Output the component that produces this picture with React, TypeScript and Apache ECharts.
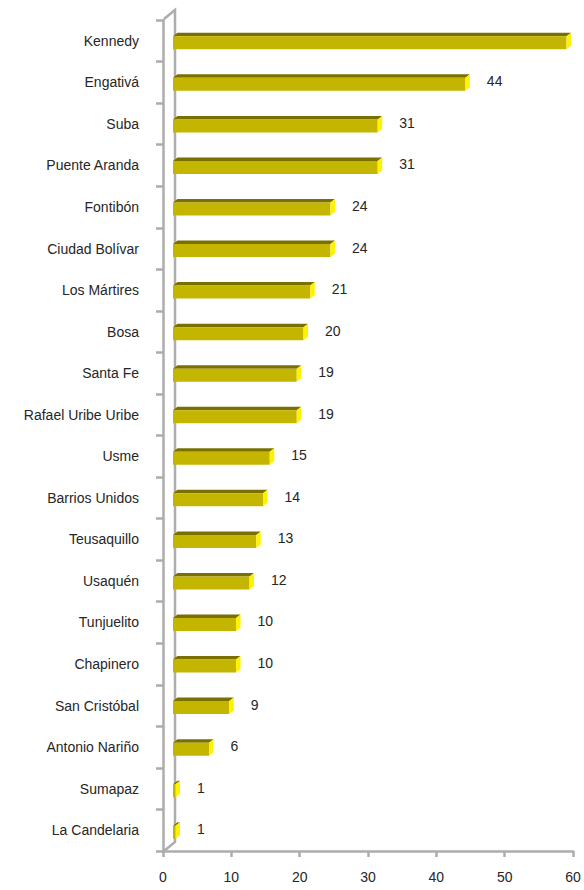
import React, { useEffect, useRef } from "react";
import * as echarts from "echarts";

const categories = [
  "Kennedy", "Engativá", "Suba", "Puente Aranda", "Fontibón", "Ciudad Bolívar",
  "Los Mártires", "Bosa", "Santa Fe", "Rafael Uribe Uribe", "Usme", "Barrios Unidos",
  "Teusaquillo", "Usaquén", "Tunjuelito", "Chapinero", "San Cristóbal",
  "Antonio Nariño", "Sumapaz", "La Candelaria",
];
const values = [59, 44, 31, 31, 24, 24, 21, 20, 19, 19, 15, 14, 13, 12, 10, 10, 9, 6, 1, 1];
const hiddenLabels = ["Kennedy"];
const xMin = 0;
const xMax = 60;
const xInterval = 10;

const GRID_LEFT = 163;
const GRID_TOP = 20;
const GRID_RIGHT = 11;
const GRID_BOTTOM = 39;
const W = 584;
const H = 890;
const AXIS_GREY = "#ADADAD";
const FONT = '"Liberation Sans", Arial, sans-serif';
const TEXT_COLOR = "#262626";

export default function App() {
  const ref = useRef<HTMLDivElement>(null);
  useEffect(() => {
    if (!ref.current) return;
    const chart = echarts.init(ref.current, undefined, { renderer: "svg" });
    const B = H - GRID_BOTTOM;
    const L = GRID_LEFT;
    const option: any = {
      animation: false,
      grid: { left: GRID_LEFT, top: GRID_TOP, right: GRID_RIGHT, bottom: GRID_BOTTOM },
      xAxis: {
        type: "value",
        min: xMin,
        max: xMax,
        interval: xInterval,
        splitLine: { show: false },
        axisLine: { show: true, lineStyle: { color: AXIS_GREY, width: 2.5 } },
        axisTick: { show: true, length: 6, lineStyle: { color: AXIS_GREY, width: 2.5 } },
        axisLabel: { color: TEXT_COLOR, fontSize: 14, fontFamily: FONT, margin: 19 },
      },
      yAxis: {
        type: "category",
        data: categories,
        inverse: true,
        axisLine: { show: true, lineStyle: { color: AXIS_GREY, width: 2.5 } },
        axisTick: { show: true, length: 7, lineStyle: { color: AXIS_GREY, width: 2.5 } },
        axisLabel: { color: TEXT_COLOR, fontSize: 14, fontFamily: FONT, margin: 24 },
      },
      graphic: [
        {
          type: "polyline",
          silent: true,
          shape: {
            points: [
              [L + 1, GRID_TOP - 1],
              [L + 12, GRID_TOP - 10],
              [L + 12, B - 9],
              [L + 1, B],
            ],
          },
          style: { stroke: AXIS_GREY, lineWidth: 2.5, fill: null },
        },
      ],
      series: [
        {
          type: "custom",
          data: values.map((v, i) => [v, i]),
          encode: { x: 0, y: 1 },
          renderItem: (params: any, api: any) => {
            const v = api.value(0);
            const i = api.value(1);
            const c0 = api.coord([0, i]);
            const cv = api.coord([v, i]);
            const cy = c0[1];
            const x0 = c0[0] + 10;
            const x1 = Math.max(x0 + 2.5, c0[0] + 5.6 + (cv[0] - c0[0]) * 0.987);
            const dx = 4.5;
            const dy = 3.5;
            const yTop = cy - 4.5;
            const yBot = cy + 8.5;
            const children: any[] = [
              {
                type: "polygon",
                shape: { points: [[x0, yTop], [x0 + dx, yTop - dy], [x1 + dx, yTop - dy], [x1, yTop]] },
                style: { fill: "#7A7000" },
              },
              {
                type: "rect",
                shape: { x: x0, y: yTop, width: x1 - x0, height: yBot - yTop },
                style: { fill: "#C4B600" },
              },
              {
                type: "polygon",
                shape: { points: [[x1, yTop], [x1 + dx, yTop - dy], [x1 + dx, yBot - dy], [x1, yBot]] },
                style: { fill: "#FFF200" },
              },
            ];
            if (!hiddenLabels.includes(categories[i])) {
              children.push({
                type: "text",
                style: {
                  text: String(v),
                  x: x1 + dx + 17,
                  y: cy - 1,
                  fill: TEXT_COLOR,
                  font: `14px ${FONT}`,
                  align: "left",
                  verticalAlign: "middle",
                },
              });
            }
            return { type: "group", children };
          },
        },
      ],
    };
    chart.setOption(option);
    return () => chart.dispose();
  }, []);
  return (
    <div
      ref={ref}
      style={{ position: "fixed", left: 0, top: 0, width: W, height: H, background: "#fff" }}
    />
  );
}
